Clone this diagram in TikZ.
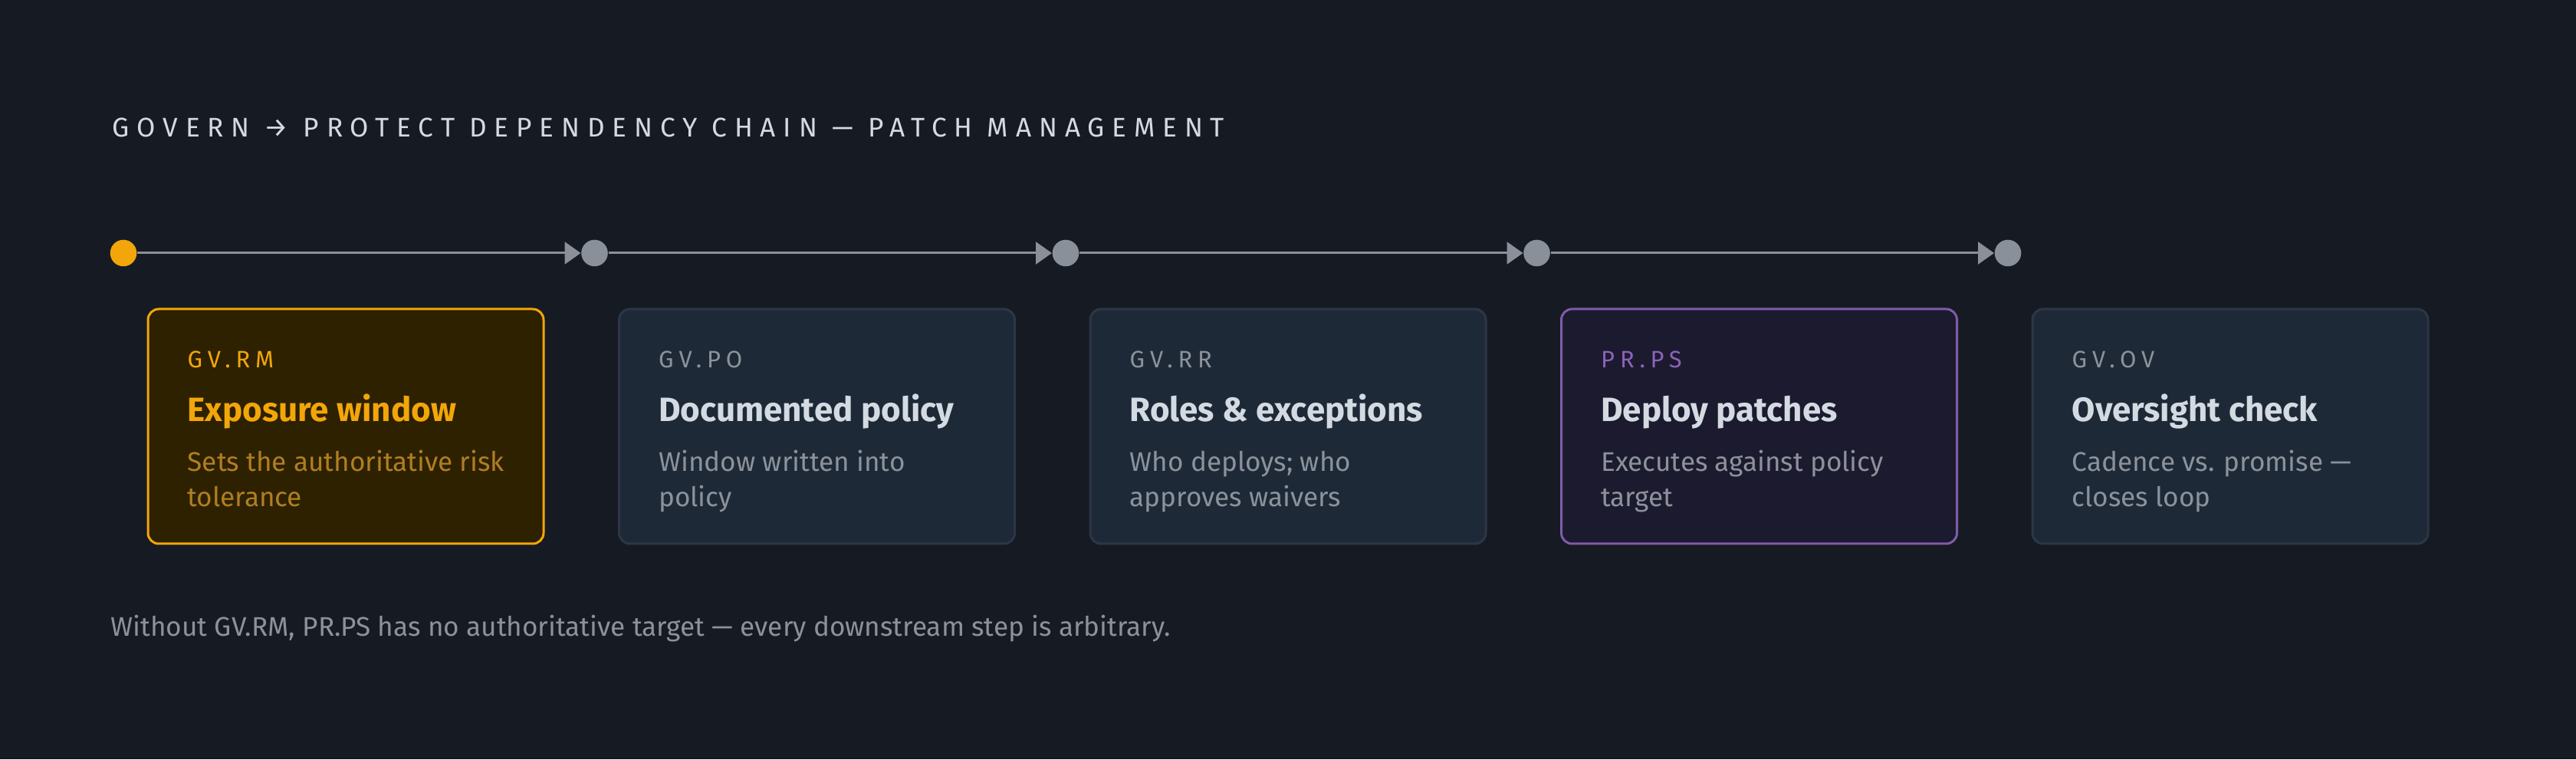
\documentclass[tikz,border=0pt]{standalone}
\usepackage{fontspec}
\setmainfont{Fira Sans}
\usetikzlibrary{arrows.meta}
\definecolor{bgcol}{HTML}{161A22}
\definecolor{cardfill}{HTML}{1E2937}
\definecolor{cardline}{HTML}{2D3646}
\definecolor{amber}{HTML}{F2A60A}
\definecolor{amberdim}{HTML}{B07E22}
\definecolor{amberfill}{HTML}{2D2100}
\definecolor{violet}{HTML}{7E5CA8}
\definecolor{violettag}{HTML}{8C62B8}
\definecolor{violetfill}{HTML}{1C1A2F}
\definecolor{inklight}{HTML}{D3DAE2}
\definecolor{inkgray}{HTML}{8B929B}
\definecolor{railcol}{HTML}{8A9099}
\begin{document}
\begin{tikzpicture}[
        card/.style={draw=cardline, fill=cardfill, line width=0.03cm, rounded corners=0.14cm,
            minimum width=5.16cm, minimum height=3.06cm, inner sep=0pt},
        dot/.style={circle, fill=railcol, minimum size=0.346cm, inner sep=0pt},
        flow/.style={draw=railcol, line width=0.03cm, -{Triangle[length=0.21cm, width=0.29cm]}},
        tag/.style={anchor=base west, inner sep=0pt, text=inkgray,
            font=\fontsize{8.8}{10}\selectfont\addfontfeatures{LetterSpace=22}},
        heading/.style={anchor=base west, inner sep=0pt, text=inklight,
            font=\fontsize{12.5}{14}\selectfont\bfseries},
        blurb/.style={anchor=base west, inner sep=0pt, text=inkgray, align=left,
            font=\fontsize{10}{13.1}\selectfont}
    ]
        \fill[bgcol] (0, 0) rectangle (33.6, 9.9);
        \node[anchor=base west, inner sep=0pt, text=inklight,
            font=\fontsize{10}{11}\selectfont\addfontfeatures{LetterSpace=28}]
            (title) at (1.46, 8.11) {GOVERN → PROTECT DEPENDENCY CHAIN — PATCH MANAGEMENT};
        % rail
        \node[dot, fill=amber] (d1) at (1.61, 6.60) {};
        \node[dot] (d2) at (7.755, 6.60) {};
        \node[dot] (d3) at (13.90, 6.60) {};
        \node[dot] (d4) at (20.045, 6.60) {};
        \node[dot] (d5) at (26.19, 6.60) {};
        \draw[flow] (d1) -- (d2);
        \draw[flow] (d2) -- (d3);
        \draw[flow] (d3) -- (d4);
        \draw[flow] (d4) -- (d5);
        % cards
        \node[card, draw=amber, fill=amberfill] (c1) at (4.51, 4.34) {};
        \node[card] (c2) at (10.655, 4.34) {};
        \node[card] (c3) at (16.80, 4.34) {};
        \node[card, draw=violet, fill=violetfill] (c4) at (22.945, 4.34) {};
        \node[card] (c5) at (29.09, 4.34) {};
        % texts (blurb base = last line)
        \node[tag, text=amber] (t1) at (2.44, 5.10) {GV.RM};
        \node[heading, text=amber] (h1) at (2.44, 4.40) {Exposure window};
        \node[blurb, text=amberdim] (s1) at (2.44, 3.29) {Sets the authoritative risk\\tolerance};
        \node[tag] (t2) at (8.585, 5.10) {GV.PO};
        \node[heading] (h2) at (8.585, 4.40) {Documented policy};
        \node[blurb] (s2) at (8.585, 3.29) {Window written into\\policy};
        \node[tag] (t3) at (14.73, 5.10) {GV.RR};
        \node[heading] (h3) at (14.73, 4.40) {Roles \& exceptions};
        \node[blurb] (s3) at (14.73, 3.29) {Who deploys; who\\approves waivers};
        \node[tag, text=violettag] (t4) at (20.875, 5.10) {PR.PS};
        \node[heading] (h4) at (20.875, 4.40) {Deploy patches};
        \node[blurb] (s4) at (20.875, 3.29) {Executes against policy\\target};
        \node[tag] (t5) at (27.02, 5.10) {GV.OV};
        \node[heading] (h5) at (27.02, 4.40) {Oversight check};
        \node[blurb] (s5) at (27.02, 3.29) {Cadence vs. promise —\\closes loop};
        \node[anchor=base west, inner sep=0pt, text=inkgray, font=\fontsize{10}{11}\selectfont]
            (note) at (1.44, 1.60) {Without GV.RM, PR.PS has no authoritative target — every downstream step is arbitrary.};
    \end{tikzpicture}
\end{document}
